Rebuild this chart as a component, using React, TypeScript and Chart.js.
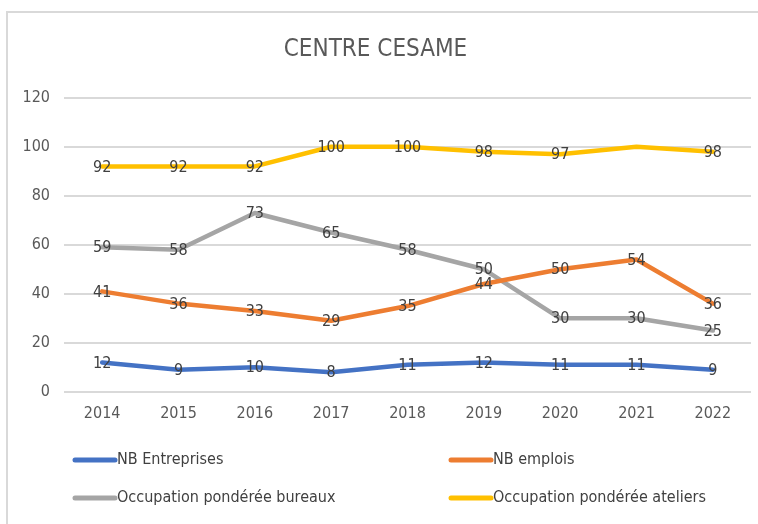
import React, { useEffect, useRef } from "react";
import { Chart, registerables } from "chart.js";

Chart.register(...registerables);

const years = ["2014", "2015", "2016", "2017", "2018", "2019", "2020", "2021", "2022"];
const nbEntreprises = [12, 9, 10, 8, 11, 12, 11, 11, 9];
const nbEmplois = [41, 36, 33, 29, 35, 44, 50, 54, 36];
const occBureaux = [59, 58, 73, 65, 58, 50, 30, 30, 25];
const occAteliers = [92, 92, 92, 100, 100, 98, 97, 100, 98];
// labels shown on the chart (null = no label)
const occAteliersLabels = [92, 92, 92, 100, 100, 98, 97, null, 98];

const seriesNames = [
  "NB Entreprises",
  "NB emplois",
  "Occupation pondérée bureaux",
  "Occupation pondérée ateliers",
];
const seriesColors = ["#4472C4", "#ED7D31", "#A5A5A5", "#FFC000"];

const FONT = "'Liberation Sans Narrow', 'DejaVu Sans Condensed', 'Open Sans', sans-serif";

const framePlugin = {
  id: "frame",
  beforeDraw(chart: any) {
    const ctx = chart.ctx;
    ctx.save();
    ctx.fillStyle = "#FFFFFF";
    ctx.fillRect(0, 0, chart.width, chart.height);
    ctx.strokeStyle = "#D9D9D9";
    ctx.lineWidth = 2;
    ctx.beginPath();
    ctx.moveTo(7, chart.height);
    ctx.lineTo(7, 12);
    ctx.lineTo(chart.width, 12);
    ctx.stroke();
    ctx.restore();
  },
};

const labelPlugin = {
  id: "centerLabels",
  afterDatasetsDraw(chart: any) {
    const ctx = chart.ctx;
    ctx.save();
    ctx.font = `16px ${FONT}`;
    ctx.fillStyle = "#404040";
    ctx.textAlign = "center";
    ctx.textBaseline = "middle";
    chart.data.datasets.forEach((ds: any, i: number) => {
      const meta = chart.getDatasetMeta(i);
      const labels = ds.pointLabels || ds.data;
      meta.data.forEach((pt: any, j: number) => {
        const v = labels[j];
        if (v === null || v === undefined) return;
        ctx.fillText(String(v), pt.x, pt.y + 1);
      });
    });
    ctx.restore();
  },
};

const legendPlugin = {
  id: "gridLegend",
  afterDraw(chart: any) {
    const ctx = chart.ctx;
    ctx.save();
    ctx.font = `16px ${FONT}`;
    ctx.textBaseline = "middle";
    ctx.textAlign = "left";
    const cols = [73, 449];
    const rows = [460, 498];
    chart.data.datasets.forEach((ds: any, i: number) => {
      const x = cols[i % 2];
      const y = rows[Math.floor(i / 2)];
      ctx.strokeStyle = ds.borderColor;
      ctx.lineWidth = 5;
      ctx.lineCap = "round";
      ctx.beginPath();
      ctx.moveTo(x + 2, y);
      ctx.lineTo(x + 42, y);
      ctx.stroke();
      ctx.fillStyle = "#404040";
      ctx.fillText(ds.label, x + 44, y);
    });
    ctx.restore();
  },
};

export default function App() {
  const ref = useRef<HTMLCanvasElement>(null);
  useEffect(() => {
    if (!ref.current) return;
    const mk = (i: number, data: number[], extra: any = {}) => ({
      label: seriesNames[i],
      data,
      borderColor: seriesColors[i],
      backgroundColor: seriesColors[i],
      borderWidth: 4.5,
      pointRadius: 0,
      tension: 0,
      borderCapStyle: "round",
      borderJoinStyle: "round",
      ...extra,
    });
    const chart = new Chart(ref.current, {
      type: "line",
      data: {
        labels: years,
        datasets: [
          mk(0, nbEntreprises),
          mk(1, nbEmplois),
          mk(2, occBureaux),
          mk(3, occAteliers, { pointLabels: occAteliersLabels }),
        ],
      },
      options: {
        animation: false,
        responsive: false,
        maintainAspectRatio: false,
        layout: { padding: { left: 0, right: 7, top: 0, bottom: 89 } },
        plugins: {
          legend: { display: false },
          tooltip: { enabled: false },
          title: {
            display: true,
            text: "CENTRE CESAME",
            color: "#595959",
            font: { family: FONT, size: 24, weight: "normal" },
            padding: { top: 35, bottom: 34 },
          },
        },
        scales: {
          x: {
            offset: true,
            grid: { display: false, drawTicks: false },
            border: { display: false },
            ticks: { color: "#595959", font: { family: FONT, size: 16 }, padding: 12, maxRotation: 0 },
          },
          y: {
            min: 0,
            max: 120,
            afterFit: (s: any) => {
              s.width = 64;
            },
            ticks: { stepSize: 20, color: "#595959", font: { family: FONT, size: 16 }, padding: 14 },
            grid: { color: "#D9D9D9", lineWidth: 2, drawTicks: false },
            border: { display: false },
          },
        },
      },
      plugins: [framePlugin, labelPlugin, legendPlugin],
    } as any);
    return () => chart.destroy();
  }, []);
  return (
    <div style={{ position: "fixed", left: 0, top: 0, width: 758, height: 524, background: "#fff", overflow: "hidden" }}>
      <canvas ref={ref} width={758} height={524} style={{ display: "block" }} />
    </div>
  );
}
